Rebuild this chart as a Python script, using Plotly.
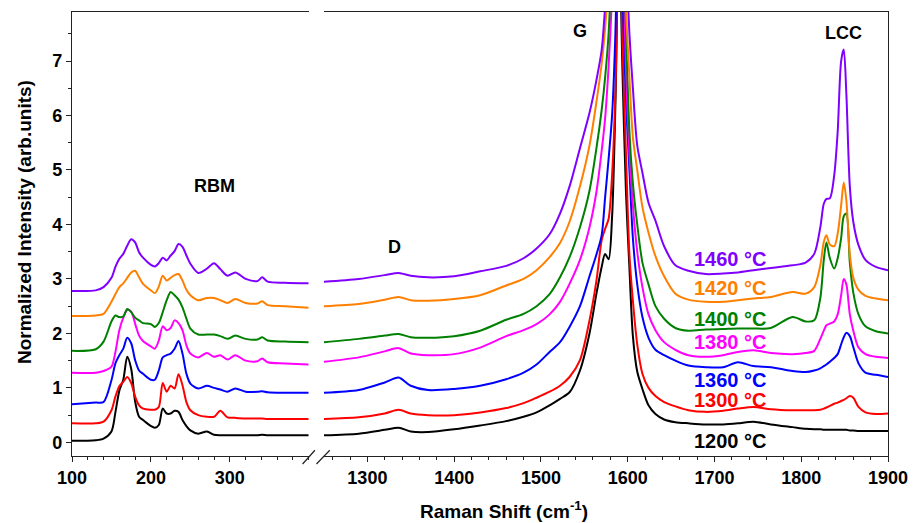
import plotly.graph_objects as go

# ---------------- data ----------------
x_left = [100, 130, 140, 150, 155, 160, 165, 170, 175, 180, 185, 190, 200, 205, 210, 215, 220, 225, 230, 235,
          240, 245, 250, 260, 271, 280, 288, 297, 307, 320, 335, 341, 348, 370, 400]
x_right = [1250, 1290, 1320, 1336, 1350, 1370, 1400, 1430, 1460, 1480,
           1495, 1510, 1522, 1533, 1545, 1556, 1564, 1570, 1574, 1578,
           1582, 1586, 1590, 1594, 1598, 1602, 1606, 1611, 1617, 1624,
           1632, 1642, 1655, 1670, 1690, 1710, 1727, 1745, 1765, 1790,
           1805, 1815, 1822, 1826, 1829, 1833, 1838, 1842, 1846, 1849,
           1852, 1856, 1860, 1866, 1874, 1886, 1900]

labels = ["1200 °C", "1300 °C", "1360 °C", "1380 °C", "1400 °C", "1420 °C", "1460 °C"]
colors = ["#000000", "#ff0000", "#0000ff", "#ff00ff", "#008000", "#ff8000", "#8000ff"]
label_y = [0.03, 0.77, 1.15, 1.84, 2.26, 2.84, 3.36]

left_1200 = [0.03, 0.04, 0.07, 0.20, 0.55, 0.95, 1.15, 1.57, 1.35, 0.75, 0.47, 0.41, 0.30, 0.27, 0.32, 0.62, 0.53, 0.53, 0.58, 0.56,
             0.41, 0.30, 0.22, 0.16, 0.20, 0.14, 0.13, 0.13, 0.13, 0.13, 0.13, 0.14, 0.13, 0.13, 0.13]
left_1300 = [0.35, 0.35, 0.38, 0.59, 0.84, 1.03, 1.11, 1.20, 1.09, 0.84, 0.68, 0.62, 0.60, 0.60, 0.65, 1.09, 0.93, 1.04, 0.99, 1.25,
             1.05, 0.74, 0.59, 0.50, 0.47, 0.47, 0.58, 0.46, 0.45, 0.44, 0.44, 0.44, 0.43, 0.43, 0.43]
left_1360 = [0.70, 0.73, 0.74, 1.14, 1.45, 1.60, 1.72, 1.92, 1.82, 1.51, 1.32, 1.26, 1.15, 1.15, 1.32, 1.56, 1.60, 1.63, 1.72, 1.86,
             1.63, 1.26, 1.08, 0.99, 1.04, 1.00, 0.97, 0.93, 0.99, 0.93, 0.93, 0.94, 0.92, 0.91, 0.91]
left_1380 = [1.28, 1.28, 1.31, 1.39, 1.66, 2.06, 2.29, 2.43, 2.40, 2.18, 1.96, 1.86, 1.76, 1.72, 1.87, 2.13, 2.06, 2.10, 2.24, 2.19,
             2.06, 1.78, 1.63, 1.56, 1.64, 1.57, 1.60, 1.52, 1.60, 1.50, 1.49, 1.54, 1.47, 1.45, 1.43]
left_1400 = [1.68, 1.71, 1.85, 2.22, 2.33, 2.30, 2.31, 2.45, 2.39, 2.29, 2.24, 2.19, 2.17, 2.12, 2.19, 2.39, 2.61, 2.76, 2.70, 2.62,
             2.48, 2.27, 2.09, 1.98, 1.98, 1.98, 1.95, 1.90, 1.96, 1.90, 1.89, 1.93, 1.87, 1.85, 1.84]
left_1420 = [2.32, 2.33, 2.36, 2.58, 2.72, 2.85, 2.92, 3.02, 3.12, 3.15, 3.03, 2.91, 2.79, 2.74, 2.86, 3.06, 2.97, 3.02, 3.07, 3.09,
             2.97, 2.80, 2.70, 2.61, 2.65, 2.65, 2.61, 2.56, 2.63, 2.56, 2.55, 2.59, 2.52, 2.50, 2.47]
left_1460 = [2.78, 2.79, 2.85, 3.02, 3.22, 3.37, 3.46, 3.61, 3.73, 3.67, 3.49, 3.39, 3.26, 3.23, 3.29, 3.39, 3.34, 3.43, 3.51, 3.64,
             3.59, 3.43, 3.28, 3.11, 3.19, 3.29, 3.18, 3.06, 3.12, 3.00, 2.96, 3.03, 2.95, 2.93, 2.92]

right_1200 = [0.13, 0.16, 0.23, 0.27, 0.20, 0.19, 0.24, 0.31, 0.39, 0.47,
              0.55, 0.68, 0.80, 0.92, 1.32, 2.00, 2.73, 3.22, 3.46, 3.36,
              4.13, 6.3, 9.5, 6.8, 4.6, 3.2, 1.95, 1.30, 0.98, 0.68,
              0.52, 0.42, 0.37, 0.35, 0.33, 0.33, 0.35, 0.38, 0.33, 0.28,
              0.25, 0.24, 0.24, 0.23, 0.23, 0.23, 0.23, 0.23, 0.23, 0.23,
              0.23, 0.22, 0.22, 0.21, 0.21, 0.21, 0.21]
right_1300 = [0.43, 0.46, 0.53, 0.60, 0.53, 0.50, 0.50, 0.55, 0.63, 0.72,
              0.82, 0.93, 1.04, 1.20, 1.51, 2.24, 2.97, 3.71, 3.92, 4.10,
              4.90, 6.5, 10, 7.3, 5.3, 3.45, 2.6, 1.8, 1.26, 1.0,
              0.85, 0.74, 0.66, 0.59, 0.56, 0.58, 0.62, 0.65, 0.61, 0.59,
              0.59, 0.59, 0.60, 0.62, 0.64, 0.67, 0.71, 0.73, 0.76, 0.78,
              0.81, 0.85, 0.82, 0.65, 0.55, 0.52, 0.53]
right_1360 = [0.91, 0.96, 1.10, 1.19, 1.04, 0.96, 0.98, 1.04, 1.16, 1.28,
              1.43, 1.66, 1.84, 2.12, 2.5, 3.05, 3.45, 3.8, 4.5, 5.2,
              6.0, 7.6, 11, 8.3, 6.3, 5.0, 3.75, 2.9, 2.3, 1.92,
              1.70, 1.60, 1.50, 1.41, 1.38, 1.38, 1.47, 1.40, 1.38, 1.31,
              1.29, 1.32, 1.36, 1.40, 1.43, 1.48, 1.55, 1.62, 1.80, 1.93,
              2.01, 1.95, 1.75, 1.45, 1.28, 1.24, 1.20]
right_1380 = [1.48, 1.56, 1.67, 1.73, 1.63, 1.60, 1.62, 1.74, 1.95, 2.06,
              2.17, 2.35, 2.58, 2.91, 3.35, 3.95, 4.6, 5.35, 5.95, 6.9,
              8.2, 10, 12, 9.5, 6.9, 5.3, 4.35, 3.5, 2.85, 2.35,
              2.06, 1.84, 1.70, 1.60, 1.57, 1.60, 1.66, 1.69, 1.64, 1.62,
              1.64, 1.68, 1.90, 2.05, 2.15, 2.18, 2.22, 2.35, 2.70, 3.0,
              2.90, 2.35, 2.05, 1.74, 1.62, 1.57, 1.55]
right_1400 = [1.84, 1.90, 1.96, 1.99, 1.93, 1.92, 1.95, 2.05, 2.25, 2.36,
              2.50, 2.72, 3.03, 3.40, 3.95, 4.62, 5.4, 6.1, 6.7, 7.5,
              9, 11, 12, 10, 7.6, 5.7, 4.75, 4.0, 3.3, 2.9,
              2.5, 2.27, 2.10, 2.05, 2.07, 2.08, 2.09, 2.09, 2.10, 2.30,
              2.22, 2.24, 2.65, 3.35, 3.67, 3.38, 3.19, 3.38, 3.75, 4.15,
              4.20, 3.30, 2.75, 2.35, 2.13, 2.04, 2.00]
right_1420 = [2.50, 2.54, 2.62, 2.67, 2.61, 2.60, 2.63, 2.70, 2.88, 3.0,
              3.16, 3.40, 3.66, 4.05, 4.70, 5.45, 6.25, 6.95, 7.6, 8.5,
              10, 11, 12, 11, 8.0, 6.7, 5.6, 5.0, 4.32, 3.85,
              3.42, 3.05, 2.73, 2.62, 2.58, 2.58, 2.61, 2.64, 2.67, 2.76,
              2.73, 2.85, 3.25, 3.68, 3.80, 3.63, 3.60, 3.83, 4.35, 4.77,
              4.44, 3.45, 3.02, 2.80, 2.69, 2.64, 2.61]
right_1460 = [2.95, 3.00, 3.07, 3.11, 3.06, 3.03, 3.05, 3.14, 3.24, 3.38,
              3.56, 3.82, 4.20, 4.70, 5.40, 6.05, 6.65, 7.2, 8.0, 9,
              10, 11, 12, 11, 9, 7.5, 6.5, 5.45, 4.95, 4.4,
              4.07, 3.6, 3.25, 3.15, 3.09, 3.10, 3.12, 3.16, 3.20, 3.25,
              3.30, 3.46, 3.95, 4.38, 4.47, 4.48, 4.9, 5.7, 7.0, 7.21,
              6.4, 4.7, 4.05, 3.62, 3.35, 3.22, 3.16]

left_series = [left_1200, left_1300, left_1360, left_1380, left_1400, left_1420, left_1460]
right_series = [right_1200, right_1300, right_1360, right_1380, right_1400, right_1420, right_1460]

band_names = ["RBM", "D", "G", "LCC"]
band_x = [280, 1331, 1545, 1849]
band_y = [4.71, 3.58, 7.55, 7.52]
band_axis = ["x", "x2", "x2", "x2"]

# ---------------- figure ----------------
FONT = "Liberation Sans, Arial, sans-serif"
fig = go.Figure()

for i in range(len(labels)):
    fig.add_trace(go.Scatter(x=x_left, y=left_series[i], mode="lines", xaxis="x", yaxis="y",
                             line=dict(color=colors[i], width=2, shape="spline", smoothing=0.8),
                             showlegend=False, hoverinfo="skip"))
    fig.add_trace(go.Scatter(x=x_right, y=right_series[i], mode="lines", xaxis="x2", yaxis="y2",
                             line=dict(color=colors[i], width=2, shape="spline", smoothing=0.8),
                             showlegend=False, hoverinfo="skip"))

tickfont = dict(family=FONT, size=18, color="black", weight="bold")
axis_common = dict(showline=True, linecolor="#222", linewidth=1.2, ticks="outside", ticklen=5,
                   tickwidth=1.2, tickcolor="#222", showgrid=False, zeroline=False, tickfont=tickfont)

fig.update_layout(
    width=919, height=523,
    margin=dict(l=72, r=25, t=11, b=67),
    paper_bgcolor="white", plot_bgcolor="white",
    xaxis=dict(domain=[0, 0.2901], range=[100, 400], tickvals=[100, 200, 300], mirror=True,
               minor=dict(dtick=20, tick0=100, ticks="outside", ticklen=3, tickcolor="#222", tickwidth=1.2),
               anchor="y", **axis_common),
    xaxis2=dict(domain=[0.3088, 1], range=[1250, 1900], tickvals=[1300, 1400, 1500, 1600, 1700, 1800, 1900],
                mirror=True,
                minor=dict(dtick=20, tick0=1260, ticks="outside", ticklen=3, tickcolor="#222", tickwidth=1.2),
                anchor="y2", **axis_common),
    yaxis=dict(domain=[0, 1], range=[-0.25, 7.9], tickvals=[0, 1, 2, 3, 4, 5, 6, 7], anchor="x",
               minor=dict(dtick=0.5, tick0=0, ticks="outside", ticklen=3, tickcolor="#222", tickwidth=1.2),
               **axis_common),
    yaxis2=dict(domain=[0, 1], range=[-0.25, 7.9], anchor="x2", side="right", showline=True,
                linecolor="#222", linewidth=1.2, ticks="", showticklabels=False, showgrid=False,
                zeroline=False),
)

# temperature labels
for i in range(len(labels)):
    fig.add_annotation(x=1719, y=label_y[i], xref="x2", yref="y2", text=labels[i], showarrow=False,
                       font=dict(family=FONT, size=20, color=colors[i], weight="bold"))

# band labels
for name, bx, by, ax in zip(band_names, band_x, band_y, band_axis):
    fig.add_annotation(x=bx, y=by, xref=ax, yref="y" if ax == "x" else "y2", text=name, showarrow=False,
                       font=dict(family=FONT, size=18, color="black", weight="bold"))

# axis titles
fig.add_annotation(x=0.530, y=-0.122, xref="paper", yref="paper", text="Raman Shift (cm<sup>-1</sup>)",
                   showarrow=False, yanchor="middle",
                   font=dict(family=FONT, size=19, color="black", weight="bold"))
fig.add_annotation(x=-0.059, y=0.5265, xref="paper", yref="paper", text="Normalized Intensity (arb.units)",
                   showarrow=False, textangle=-90, xanchor="center", yanchor="middle",
                   font=dict(family=FONT, size=19, color="black", weight="bold"))

# axis break marks
for x0, x1 in [(0.2826, 0.2977), (0.2996, 0.3159)]:
    fig.add_shape(type="line", xref="paper", yref="paper", x0=x0, y0=-0.018, x1=x1, y1=0.013,
                  line=dict(color="#222", width=1.2))

fig.write_html("out.html")
